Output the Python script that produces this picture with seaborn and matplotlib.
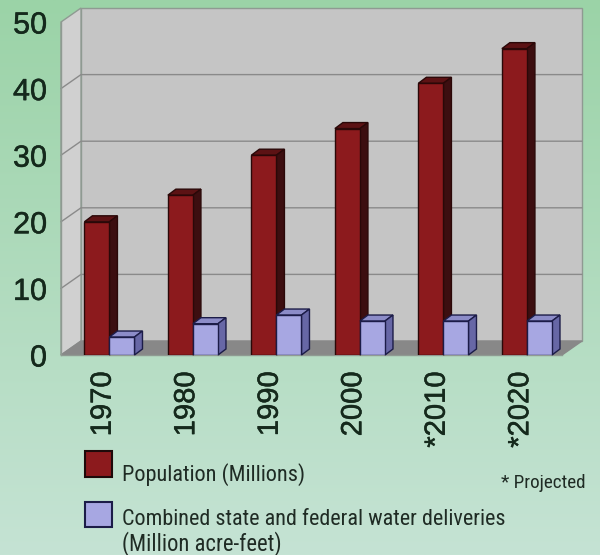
import numpy as np
import pandas as pd
import matplotlib
matplotlib.use('Agg')
import matplotlib.pyplot as plt
import matplotlib.patheffects as pe
import seaborn as sns
from matplotlib.patches import Polygon, Rectangle
from matplotlib.colors import LinearSegmentedColormap
from matplotlib import font_manager

# Data
years = ['1970', '1980', '1990', '2000', '*2010', '*2020']
population = [20, 24, 30, 34, 40.8, 46]          # millions
water = [2.7, 4.7, 6.0, 5.1, 5.1, 5.1]             # million acre-feet
series = ['Population (Millions)',
          'Combined state and federal water deliveries']
series_extra = '(Million acre-feet)'
note = '* Projected'

RED, RED_SIDE, RED_TOP, RED_EDGE = '#8c1a1d', '#3c0e10', '#5c1214', '#2a0808'
BLUE, BLUE_SIDE, BLUE_TOP, BLUE_EDGE = '#a7a7e2', '#6767a6', '#8c8cc8', '#1c1c48'
TXT = '#15291c'

sns.set_style('white')
plt.rcParams['font.family'] = ['Liberation Sans', 'DejaVu Sans']

avail = {f.name for f in font_manager.fontManager.ttflist}
legend_font = 'Lato'
for cand in ['Liberation Sans Narrow', 'Roboto Condensed', 'Open Sans Condensed',
             'Noto Sans Condensed', 'DejaVu Sans Condensed']:
    if cand in avail:
        legend_font = cand
        break

W, H = 600, 555
fig = plt.figure(figsize=(6, 5.55), dpi=100)

# green gradient background
bg = fig.add_axes([0, 0, 1, 1], zorder=-10)
cmap = LinearSegmentedColormap.from_list('bg', ['#9bd3a7', '#c5e3d4'])
bg.imshow(np.linspace(0, 1, 256)[:, None], aspect='auto', cmap=cmap,
          extent=[0, 1, 0, 1])
bg.axis('off')

# front plane of the 3D box
ax_l, ax_r, ax_b, ax_t = 61, 562, 355, 22
ax = fig.add_axes([ax_l / W, 1 - ax_b / H, (ax_r - ax_l) / W, (ax_b - ax_t) / H])

df = pd.DataFrame({
    'year': years * 2,
    'value': population + water,
    'series': [series[0]] * len(years) + [series[1]] * len(years),
})
sns.barplot(data=df, x='year', y='value', hue='series', palette=[RED, BLUE],
            width=0.6, saturation=1, errorbar=None, legend=False, ax=ax)

ax.set_xlim(-0.5, len(years) - 0.5)
ax.set_ylim(0, 50)
ppx = (ax_r - ax_l) / len(years)
ppy = (ax_b - ax_t) / 50

# depth of the bars and of the walls, in data units
bdx, bdy = 8 / ppx, 6 / ppy
wdx, wdy = 20 / ppx, 14 / ppy
shift = 0.08

bars = list(ax.patches)
n = len(years)
for i, p in enumerate(bars):
    is_red = i < n
    face, side, top, edge = (RED, RED_SIDE, RED_TOP, RED_EDGE) if is_red else \
        (BLUE, BLUE_SIDE, BLUE_TOP, BLUE_EDGE)
    z = 3 if is_red else 4
    x0 = p.get_x() + shift
    w, h = p.get_width(), p.get_height()
    p.set_x(x0)
    p.set_facecolor(face)
    p.set_edgecolor(edge)
    p.set_linewidth(1)
    p.set_zorder(z + 0.2)
    ax.add_patch(Polygon([(x0, h), (x0 + w, h), (x0 + w + bdx, h + bdy), (x0 + bdx, h + bdy)],
                         closed=True, facecolor=top, edgecolor=edge, lw=1, zorder=z, clip_on=False))
    ax.add_patch(Polygon([(x0 + w, 0), (x0 + w + bdx, bdy), (x0 + w + bdx, h + bdy), (x0 + w, h)],
                         closed=True, facecolor=side, edgecolor=edge, lw=1, zorder=z, clip_on=False))

# walls and floor
x_lo, x_hi = -0.5, len(years) - 0.5
ax.add_patch(Rectangle((x_lo + wdx, wdy), x_hi - x_lo, 50, facecolor='#c5c5c5',
                       edgecolor='#8f9a92', lw=1, zorder=0.5, clip_on=False))
ax.add_patch(Polygon([(x_lo, 0), (x_lo + wdx, wdy), (x_lo + wdx, 50 + wdy), (x_lo, 50)],
                     closed=True, facecolor='#d0d0d0', edgecolor='#8f9a92', lw=1,
                     zorder=0.6, clip_on=False))
for g in [10, 20, 30, 40]:
    ax.plot([x_lo, x_lo + wdx, x_hi + wdx], [g, g + wdy, g + wdy], color='#8a8a8a',
            lw=1, zorder=0.8, clip_on=False)
ax.add_patch(Polygon([(x_lo, 0), (x_hi, 0), (x_hi + wdx, wdy), (x_lo + wdx, wdy)],
                     closed=True, facecolor='#888888', edgecolor='#888888', lw=1,
                     zorder=1, clip_on=False))

ax.patch.set_visible(False)
for s in ['top', 'right']:
    ax.spines[s].set_visible(False)
for s in ['left', 'bottom']:
    ax.spines[s].set_color('#8f9a92')
    ax.spines[s].set_linewidth(1)
    ax.spines[s].set_zorder(1.5)

ax.set_yticks([0, 10, 20, 30, 40, 50])
ax.tick_params(axis='y', length=6, color='#8f9a92', labelsize=22, labelcolor=TXT, pad=4)
ax.set_xticks(range(n))
ax.set_xticklabels(years, rotation=90)
ax.set_xticks(np.arange(n + 1) - 0.5, minor=True)
ax.tick_params(axis='x', which='major', length=0, labelsize=21, labelcolor=TXT, pad=12)
ax.tick_params(axis='x', which='minor', length=6, color='#8f9a92')
ax.set_xlabel('')
ax.set_ylabel('')
for lab in ax.get_yticklabels() + ax.get_xticklabels():
    lab.set_path_effects([pe.withStroke(linewidth=0.35, foreground=TXT)])

# legend drawn by hand below the axis labels
fig.add_artist(Rectangle((85 / W, 1 - 477 / H), 27 / W, 26 / H, transform=fig.transFigure,
                         facecolor=RED, edgecolor='#1e0a0a', lw=1.5))
fig.add_artist(Rectangle((85 / W, 1 - 527 / H), 27 / W, 25 / H, transform=fig.transFigure,
                         facecolor=BLUE, edgecolor=BLUE_EDGE, lw=1.5))

texts = [
    (series[0], 122, 481, 306 - 122),
    (note, 501, 488, 586 - 501),
    (series[1], 122, 525, 505 - 122),
    (series_extra, 122, 550, 281 - 122),
]
renderer = fig.canvas.get_renderer()
for s, x, y, target in texts:
    t = fig.text(x / W, 1 - y / H, s, fontsize=15, family=legend_font, va='baseline',
                 color='#1f2b24')
    wpx = t.get_window_extent(renderer).width
    t.set_fontsize(15 * target / wpx)

fig.savefig('out.png', dpi=100)
